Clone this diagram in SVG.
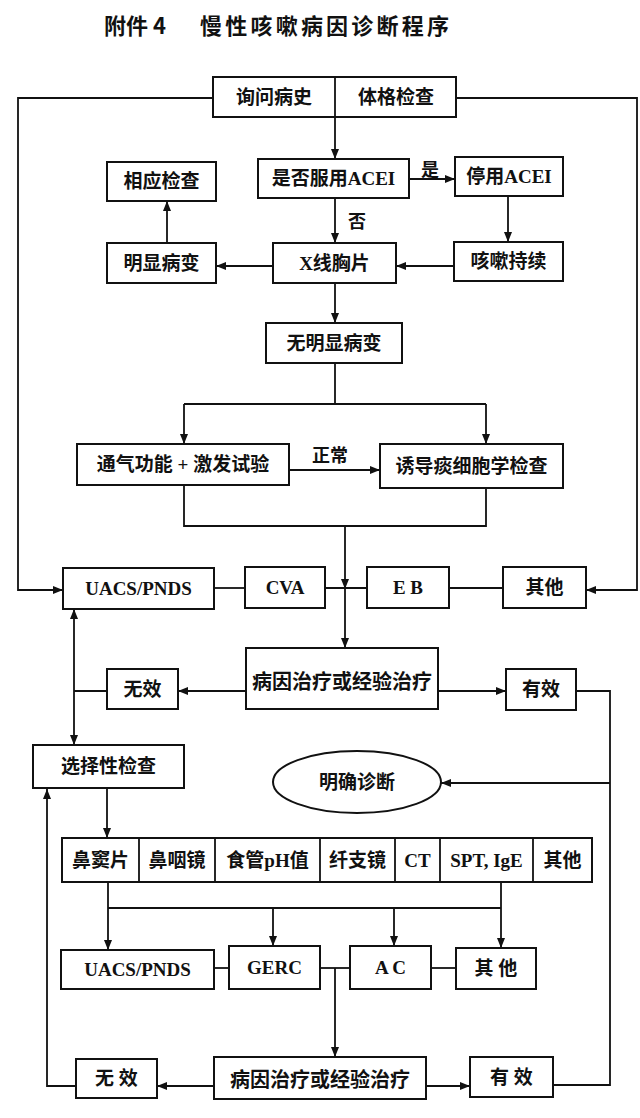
<svg xmlns="http://www.w3.org/2000/svg" width="640" height="1118" viewBox="0 0 640 1118">
<style>
  .box{fill:#fff;stroke:#111;stroke-width:2}
  .ln{fill:none;stroke:#111;stroke-width:1.8}
  .arr{fill:none;stroke:#111;stroke-width:1.8;marker-end:url(#ah)}
  .t{font-family:"Liberation Serif","Noto Sans CJK SC",serif;font-weight:bold;font-size:19px;fill:#111;text-anchor:middle;dominant-baseline:central}
  .lbl{font-family:"Noto Sans CJK SC",sans-serif;font-weight:bold;font-size:18px;fill:#111;text-anchor:middle;dominant-baseline:central}
  .title{font-family:"Noto Sans CJK SC",sans-serif;font-weight:bold;font-size:22px;fill:#111}
</style>
<defs>
  <marker id="ah" markerUnits="userSpaceOnUse" markerWidth="10" markerHeight="10" viewBox="0 0 10 10" refX="10" refY="5" orient="auto">
    <path d="M0,1 L10,5 L0,9 z" fill="#111"/>
  </marker>
  <marker id="ahs" markerUnits="userSpaceOnUse" markerWidth="10" markerHeight="10" viewBox="0 0 10 10" refX="10" refY="5" orient="auto-start-reverse">
    <path d="M0,1 L10,5 L0,9 z" fill="#111"/>
  </marker>
</defs>
<rect width="640" height="1118" fill="#fff"/>
<text class="title" y="34"><tspan x="104">附件 4</tspan><tspan x="200" textLength="249" lengthAdjust="spacing">慢性咳嗽病因诊断程序</tspan></text>

<g id="connectors">
  <polyline class="arr" points="213,98 18,98 18,590 63,590"/>
  <polyline class="arr" points="456,98 637,98 637,590 586,590"/>
  <line class="arr" x1="335" y1="117" x2="335" y2="159"/>
  <line class="arr" x1="409" y1="179" x2="455" y2="179"/>
  <line class="arr" x1="335" y1="198" x2="335" y2="243"/>
  <line class="arr" x1="508" y1="196" x2="508" y2="242"/>
  <line class="arr" x1="454" y1="266" x2="396" y2="266"/>
  <line class="arr" x1="273" y1="266" x2="216" y2="266"/>
  <line class="arr" x1="167" y1="243" x2="167" y2="201"/>
  <line class="arr" x1="335" y1="283" x2="335" y2="323"/>
  <line class="ln" x1="335" y1="363" x2="335" y2="404"/>
  <line class="ln" x1="184" y1="404" x2="486" y2="404"/>
  <line class="arr" x1="184" y1="404" x2="184" y2="444"/>
  <line class="arr" x1="486" y1="404" x2="486" y2="444"/>
  <line class="arr" x1="289" y1="470" x2="380" y2="470"/>
  <polyline class="ln" points="184,485 184,526 486,526 486,488"/>
  <line class="arr" x1="345" y1="526" x2="345" y2="589"/>
  <line class="arr" x1="345" y1="588" x2="345" y2="648"/>
  <line class="ln" x1="214" y1="588" x2="245" y2="588"/>
  <line class="ln" x1="325" y1="588" x2="367" y2="588"/>
  <line class="ln" x1="449" y1="588" x2="503" y2="588"/>
  <line class="arr" x1="74" y1="691" x2="74" y2="609"/>
  <line class="arr" x1="74" y1="691" x2="74" y2="745"/>
  <line class="ln" x1="107" y1="691" x2="74" y2="691"/>
  <line class="arr" x1="246" y1="691" x2="178" y2="691"/>
  <line class="arr" x1="438" y1="691" x2="506" y2="691"/>
  <polyline class="ln" points="576,691 610,691 610,1085 553,1085"/>
  <line class="arr" x1="610" y1="783" x2="441" y2="783"/>
  <line class="arr" x1="107" y1="788" x2="107" y2="838"/>
  <polyline class="arr" points="76,1086 47,1086 47,789"/>
  <line class="ln" x1="108" y1="882" x2="108" y2="908"/>
  <line class="ln" x1="501" y1="882" x2="501" y2="908"/>
  <line class="ln" x1="108" y1="908" x2="501" y2="908"/>
  <line class="arr" x1="108" y1="908" x2="108" y2="950"/>
  <line class="arr" x1="273" y1="908" x2="273" y2="946"/>
  <line class="arr" x1="394" y1="908" x2="394" y2="946"/>
  <line class="arr" x1="501" y1="908" x2="501" y2="948"/>
  <line class="ln" x1="214" y1="968" x2="229" y2="968"/>
  <line class="ln" x1="320" y1="968" x2="350" y2="968"/>
  <line class="ln" x1="431" y1="968" x2="456" y2="968"/>
  <line class="arr" x1="335" y1="968" x2="335" y2="1057"/>
  <line class="arr" x1="214" y1="1086" x2="157" y2="1086"/>
  <line class="arr" x1="426" y1="1086" x2="470" y2="1086"/>
  <text class="lbl" x="430" y="168">是</text>
  <text class="lbl" x="357" y="220">否</text>
  <text class="lbl" x="330" y="454">正常</text>
</g>

<g id="n-history">
  <rect class="box" x="213" y="77" width="243" height="40"/>
  <line class="ln" x1="335" y1="77" x2="335" y2="117"/>
  <text class="t" x="274" y="97">询问病史</text>
  <text class="t" x="396" y="97">体格检查</text>
</g>
<g id="n-acei"><rect class="box" x="258" y="159" width="151" height="39"/><text class="t" x="333.5" y="178.5">是否服用ACEI</text></g>
<g id="n-stop"><rect class="box" x="455" y="157" width="108" height="39"/><text class="t" x="509" y="176.5">停用ACEI</text></g>
<g id="n-exam"><rect class="box" x="107" y="162" width="109" height="39"/><text class="t" x="161.5" y="181.5">相应检查</text></g>
<g id="n-lesion"><rect class="box" x="107" y="243" width="109" height="40"/><text class="t" x="161.5" y="263">明显病变</text></g>
<g id="n-xray"><rect class="box" x="273" y="243" width="123" height="40"/><text class="t" x="334.5" y="263">X线胸片</text></g>
<g id="n-persist"><rect class="box" x="454" y="242" width="109" height="39"/><text class="t" x="508.5" y="261.5">咳嗽持续</text></g>
<g id="n-nolesion"><rect class="box" x="266" y="323" width="136" height="40"/><text class="t" x="334" y="343">无明显病变</text></g>
<g id="n-spiro"><rect class="box" x="77" y="444" width="212" height="41"/><text class="t" x="183" y="464.5">通气功能 + 激发试验</text></g>
<g id="n-sputum"><rect class="box" x="380" y="444" width="183" height="44"/><text class="t" x="471.5" y="466">诱导痰细胞学检查</text></g>
<g id="n-uacs1"><rect class="box" x="63" y="568" width="151" height="41"/><text class="t" x="138.5" y="588.5">UACS/PNDS</text></g>
<g id="n-cva"><rect class="box" x="245" y="567" width="80" height="41"/><text class="t" x="285" y="587.5">CVA</text></g>
<g id="n-eb"><rect class="box" x="367" y="567" width="82" height="41"/><text class="t" x="408" y="587.5">E B</text></g>
<g id="n-other1"><rect class="box" x="503" y="567" width="83" height="41"/><text class="t" x="544.5" y="587.5">其他</text></g>
<g id="n-treat1"><rect class="box" x="246" y="648" width="192" height="61"/><text class="t" x="342" y="682" style="font-size:20px">病因治疗或经验治疗</text></g>
<g id="n-fail1"><rect class="box" x="107" y="669" width="71" height="40"/><text class="t" x="142.5" y="689">无效</text></g>
<g id="n-ok1"><rect class="box" x="506" y="669" width="70" height="41"/><text class="t" x="541" y="689.5">有效</text></g>
<g id="n-select"><rect class="box" x="33" y="745" width="151" height="43"/><text class="t" x="108.5" y="766.5">选择性检查</text></g>
<g id="n-diag"><ellipse class="box" cx="357" cy="782" rx="84" ry="31"/><text class="t" x="357" y="782">明确诊断</text></g>
<g id="n-tests">
  <rect class="box" x="62" y="838" width="530" height="44"/>
  <line class="ln" x1="139" y1="838" x2="139" y2="882"/>
  <line class="ln" x1="215" y1="838" x2="215" y2="882"/>
  <line class="ln" x1="320" y1="838" x2="320" y2="882"/>
  <line class="ln" x1="395" y1="838" x2="395" y2="882"/>
  <line class="ln" x1="440" y1="838" x2="440" y2="882"/>
  <line class="ln" x1="533" y1="838" x2="533" y2="882"/>
  <text class="t" x="100.5" y="860">鼻窦片</text>
  <text class="t" x="177" y="860">鼻咽镜</text>
  <text class="t" x="267.5" y="860">食管pH值</text>
  <text class="t" x="357.5" y="860">纤支镜</text>
  <text class="t" x="417.5" y="860">CT</text>
  <text class="t" x="486.5" y="860">SPT, IgE</text>
  <text class="t" x="562.5" y="860">其他</text>
</g>
<g id="n-uacs2"><rect class="box" x="61" y="950" width="153" height="39"/><text class="t" x="137.5" y="969.5">UACS/PNDS</text></g>
<g id="n-gerc"><rect class="box" x="229" y="946" width="91" height="43"/><text class="t" x="274.5" y="967.5">GERC</text></g>
<g id="n-ac"><rect class="box" x="350" y="946" width="81" height="43"/><text class="t" x="390.5" y="967.5">A C</text></g>
<g id="n-other2"><rect class="box" x="456" y="948" width="80" height="41"/><text class="t" x="496" y="968.5">其 他</text></g>
<g id="n-treat2"><rect class="box" x="214" y="1057" width="212" height="42"/><text class="t" x="320" y="1080" style="font-size:20px">病因治疗或经验治疗</text></g>
<g id="n-fail2"><rect class="box" x="76" y="1059" width="81" height="39"/><text class="t" x="116.5" y="1078.5">无 效</text></g>
<g id="n-ok2"><rect class="box" x="470" y="1057" width="83" height="40"/><text class="t" x="511.5" y="1077">有 效</text></g>
</svg>
